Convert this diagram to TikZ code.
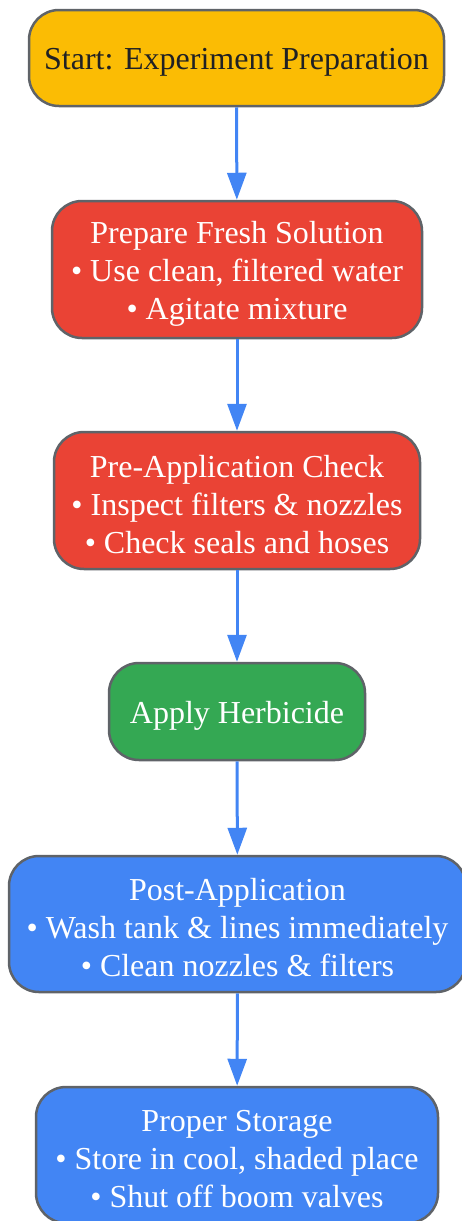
\documentclass[tikz,border=0pt]{standalone}
\usepackage{fontspec}
\setmainfont{Liberation Serif}
\usetikzlibrary{arrows.meta}
\definecolor{startyellow}{HTML}{FBBC04}
\definecolor{stepred}{HTML}{EA4335}
\definecolor{stepgreen}{HTML}{34A853}
\definecolor{stepblue}{HTML}{4285F4}
\definecolor{edgegray}{HTML}{5F6368}
\definecolor{darktext}{HTML}{202124}
\newcommand{\topstrut}{\rule{0pt}{30pt}}
\tikzset{
	stage/.style={rectangle, rounded corners=30pt, draw=edgegray, line width=2.5pt,
		inner sep=0pt, align=center, font=\fontsize{32}{38}\selectfont, text=white},
	flow/.style={-{Triangle[width=19pt,length=27pt]}, draw=stepblue, line width=3pt}
}
\begin{document}
\begin{tikzpicture}[x=1pt, y=-1pt]
			\useasboundingbox (0,0) rectangle (462,1221);
			\node[stage, fill=startyellow, text=darktext, minimum width=415pt, minimum height=96pt]
				(start) at (236.5, 58) {\topstrut Start: Experiment Preparation};
			\node[stage, fill=stepred, minimum width=370pt, minimum height=137pt]
				(prep) at (237, 269.5) {\topstrut Prepare Fresh Solution\\ • Use clean, filtered water\\ • Agitate mixture};
			\node[stage, fill=stepred, minimum width=366pt, minimum height=137pt]
				(check) at (237, 500.5) {\topstrut Pre-Application Check\\ • Inspect filters \& nozzles\\ • Check seals and hoses};
			\node[stage, fill=stepgreen, minimum width=256pt, minimum height=97pt]
				(apply) at (237, 711.5) {\topstrut Apply Herbicide};
			\node[stage, fill=stepblue, minimum width=457pt, minimum height=136pt]
				(post) at (237.5, 924) {\topstrut Post-Application\\ • Wash tank \& lines immediately\\ • Clean nozzles \& filters};
			\node[stage, fill=stepblue, minimum width=402pt, minimum height=136pt]
				(store) at (237, 1155) {\topstrut Proper Storage\\ • Store in cool, shaded place\\ • Shut off boom valves};
			\foreach \a/\b in {start/prep, prep/check, check/apply, apply/post, post/store}
				\draw[flow] (\a) -- (\b);
		\end{tikzpicture}
\end{document}
